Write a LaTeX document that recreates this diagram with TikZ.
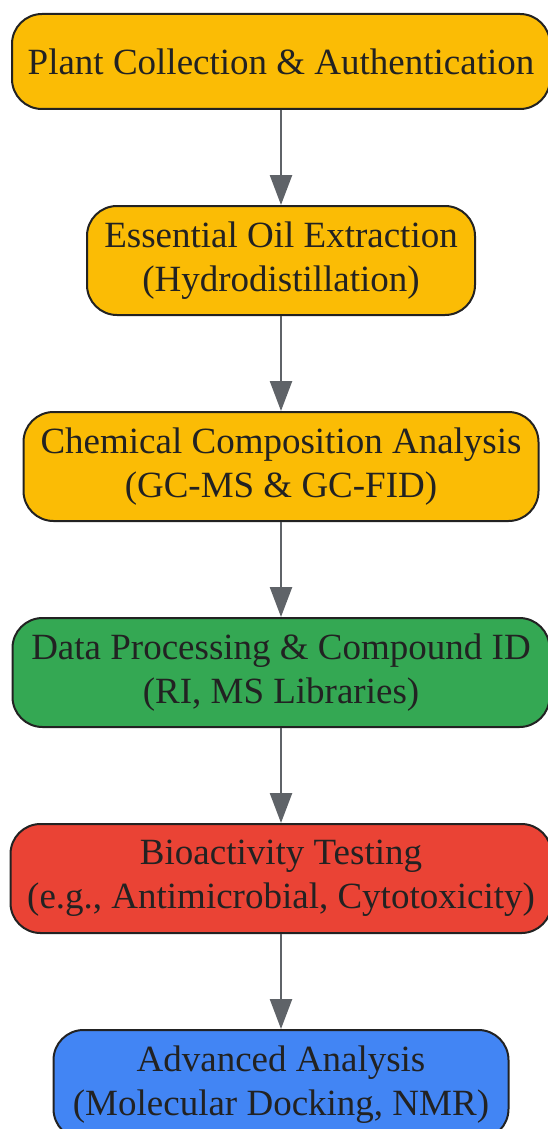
\documentclass[tikz,border=0pt]{standalone}
\usepackage{fontspec}
\setmainfont{Liberation Serif}
\usetikzlibrary{positioning,arrows.meta}

\definecolor{stepyellow}{HTML}{FBBC05}
\definecolor{stepgreen}{HTML}{34A853}
\definecolor{stepred}{HTML}{EA4335}
\definecolor{stepblue}{HTML}{4285F4}
\definecolor{edgegray}{HTML}{5F6368}
\definecolor{inkdark}{HTML}{222222}

\tikzset{
    stepbox/.style={draw=inkdark, line width=2pt, rounded corners=30pt,
        align=center, text=inkdark, inner xsep=12pt,
        font=\fontsize{37}{44}\selectfont},
    oneline/.style={stepbox, minimum height=95pt},
    twoline/.style={stepbox, minimum height=109pt},
    flow/.style={draw=edgegray, line width=2.5pt,
        -{Triangle[length=30pt,width=22pt]}},
}

\begin{document}
\begin{tikzpicture}[node distance=95pt]
    \useasboundingbox (0pt,0pt) rectangle (547pt,-1129pt);

    \node[oneline, fill=stepyellow, minimum width=538pt] (collect) at (281pt,-61.5pt)
        {Plant Collection \& Authentication};
    \node[twoline, fill=stepyellow, minimum width=388pt, below=of collect] (extract)
        {Essential Oil Extraction\\(Hydrodistillation)};
    \node[twoline, fill=stepyellow, minimum width=515pt, below=of extract] (gcms)
        {Chemical Composition Analysis\\(GC-MS \& GC-FID)};
    \node[twoline, fill=stepgreen, minimum width=537pt, below=of gcms] (dataproc)
        {Data Processing \& Compound ID\\(RI, MS Libraries)};
    \node[twoline, fill=stepred, minimum width=541pt, below=of dataproc] (bioassay)
        {Bioactivity Testing\\(e.g., Antimicrobial, Cytotoxicity)};
    \node[twoline, fill=stepblue, minimum width=455pt, below=of bioassay] (advanced)
        {Advanced Analysis\\(Molecular Docking, NMR)};

    % arrows between the steps
    \foreach \a/\b in {collect/extract, extract/gcms, gcms/dataproc,
                       dataproc/bioassay, bioassay/advanced}
        \draw[flow] (\a) -- (\b);
\end{tikzpicture}
\end{document}
